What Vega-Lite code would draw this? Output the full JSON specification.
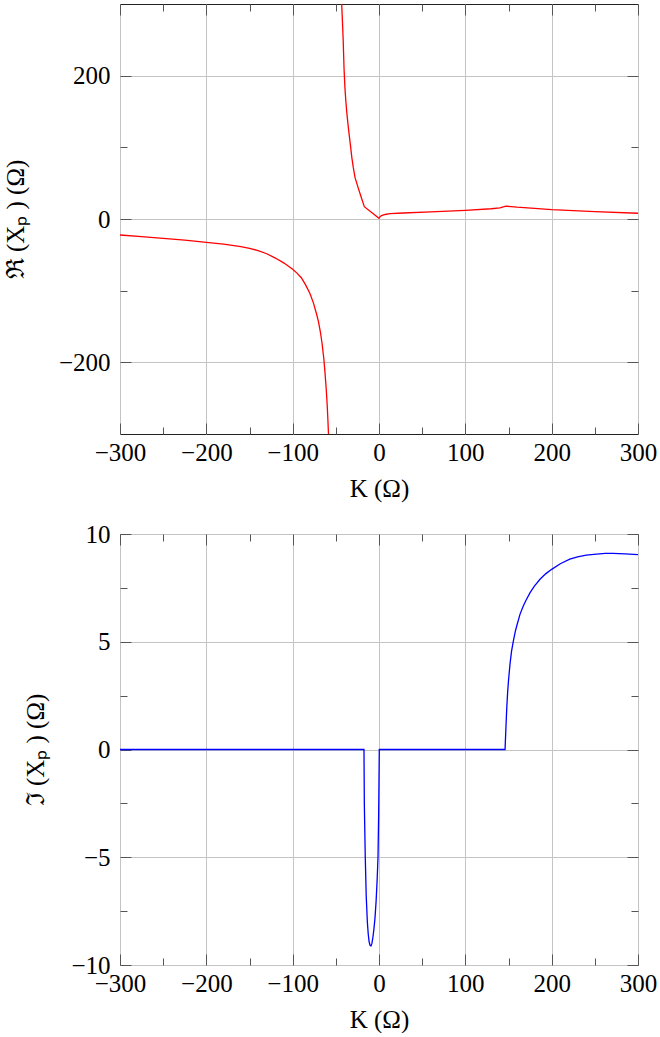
{
  "$schema": "https://vega.github.io/schema/vega-lite/v6.json",
  "padding": {"left": 2, "top": 3, "right": 0, "bottom": 0},
  "autosize": {"type": "pad"},
  "background": "white",
  "datasets": {
    "re": [
      {"K": -300, "v": -22.3, "seg": "a"},
      {"K": -275, "v": -24.5, "seg": "a"},
      {"K": -250, "v": -27, "seg": "a"},
      {"K": -225, "v": -29.5, "seg": "a"},
      {"K": -200, "v": -32.5, "seg": "a"},
      {"K": -180, "v": -35, "seg": "a"},
      {"K": -160, "v": -38.5, "seg": "a"},
      {"K": -150, "v": -41, "seg": "a"},
      {"K": -140, "v": -44, "seg": "a"},
      {"K": -130, "v": -48.5, "seg": "a"},
      {"K": -120, "v": -54.5, "seg": "a"},
      {"K": -110, "v": -61.5, "seg": "a"},
      {"K": -100, "v": -70, "seg": "a"},
      {"K": -95, "v": -75.5, "seg": "a"},
      {"K": -90, "v": -82, "seg": "a"},
      {"K": -85, "v": -92, "seg": "a"},
      {"K": -80, "v": -104, "seg": "a"},
      {"K": -76, "v": -117, "seg": "a"},
      {"K": -72, "v": -134, "seg": "a"},
      {"K": -70, "v": -144, "seg": "a"},
      {"K": -68, "v": -157, "seg": "a"},
      {"K": -66, "v": -173, "seg": "a"},
      {"K": -64, "v": -194, "seg": "a"},
      {"K": -62.5, "v": -215, "seg": "a"},
      {"K": -61, "v": -240, "seg": "a"},
      {"K": -60, "v": -260, "seg": "a"},
      {"K": -59.2, "v": -280, "seg": "a"},
      {"K": -58.5, "v": -300, "seg": "a"},
      {"K": -43.2, "v": 300, "seg": "b"},
      {"K": -42.5, "v": 280, "seg": "b"},
      {"K": -41.5, "v": 250, "seg": "b"},
      {"K": -40.5, "v": 210, "seg": "b"},
      {"K": -39.5, "v": 184, "seg": "b"},
      {"K": -38.5, "v": 166, "seg": "b"},
      {"K": -37.5, "v": 151, "seg": "b"},
      {"K": -36, "v": 133, "seg": "b"},
      {"K": -34.5, "v": 117, "seg": "b"},
      {"K": -33, "v": 102, "seg": "b"},
      {"K": -31.5, "v": 86, "seg": "b"},
      {"K": -29.8, "v": 72, "seg": "b"},
      {"K": -27.8, "v": 58, "seg": "b"},
      {"K": -24, "v": 43, "seg": "b"},
      {"K": -20.5, "v": 30, "seg": "b"},
      {"K": -17, "v": 17.2, "seg": "b"},
      {"K": 0, "v": 1, "seg": "b"},
      {"K": 1.5, "v": 3.5, "seg": "b"},
      {"K": 3, "v": 4.8, "seg": "b"},
      {"K": 7, "v": 6.3, "seg": "b"},
      {"K": 12.7, "v": 7.4, "seg": "b"},
      {"K": 28, "v": 8.4, "seg": "b"},
      {"K": 60, "v": 10, "seg": "b"},
      {"K": 100, "v": 12, "seg": "b"},
      {"K": 130, "v": 14.3, "seg": "b"},
      {"K": 140, "v": 15.6, "seg": "b"},
      {"K": 147, "v": 18, "seg": "b"},
      {"K": 160, "v": 16.5, "seg": "b"},
      {"K": 200, "v": 13, "seg": "b"},
      {"K": 250, "v": 10.3, "seg": "b"},
      {"K": 300, "v": 8, "seg": "b"}
    ],
    "im": [
      {"K": -300, "v": 0},
      {"K": -17.4, "v": 0},
      {"K": -17, "v": -2.5},
      {"K": -15.9, "v": -5},
      {"K": -14.8, "v": -6.8},
      {"K": -13.5, "v": -8},
      {"K": -12.5, "v": -8.55},
      {"K": -11.5, "v": -8.9},
      {"K": -10.5, "v": -9.08},
      {"K": -9.3, "v": -9.12},
      {"K": -8.2, "v": -9.0},
      {"K": -7, "v": -8.7},
      {"K": -5.8, "v": -8.3},
      {"K": -4.6, "v": -7.8},
      {"K": -3.3, "v": -7.0},
      {"K": -2.1, "v": -6.0},
      {"K": -1.16, "v": -5},
      {"K": -0.4, "v": -3},
      {"K": 0.35, "v": 0},
      {"K": 146, "v": 0},
      {"K": 147, "v": 1.0},
      {"K": 148, "v": 1.94},
      {"K": 149, "v": 2.65},
      {"K": 150, "v": 3.2},
      {"K": 151.7, "v": 3.95},
      {"K": 153.5, "v": 4.55},
      {"K": 155.6, "v": 5.03},
      {"K": 158, "v": 5.5},
      {"K": 160, "v": 5.8},
      {"K": 163.3, "v": 6.27},
      {"K": 167, "v": 6.65},
      {"K": 170, "v": 6.9},
      {"K": 175, "v": 7.28},
      {"K": 180, "v": 7.58},
      {"K": 186.5, "v": 7.9},
      {"K": 193, "v": 8.15},
      {"K": 200, "v": 8.36},
      {"K": 210, "v": 8.62},
      {"K": 221, "v": 8.83},
      {"K": 230, "v": 8.94},
      {"K": 240, "v": 9.02},
      {"K": 252, "v": 9.07},
      {"K": 262, "v": 9.1},
      {"K": 271, "v": 9.1},
      {"K": 285, "v": 9.08},
      {"K": 300, "v": 9.04}
    ]
  },
  "bounds": "flush",
  "spacing": 100,
  "vconcat": [
    {
      "width": 518,
      "height": 430,
      "data": {"name": "re"},
      "layer": [
        {
          "mark": {"type": "line", "color": "#ff0000", "strokeWidth": 1.3, "clip": true},
          "encoding": {
            "x": {"field": "K", "type": "quantitative", "scale": {"domain": [-300, 300], "nice": false, "zero": false},
              "axis": {"orient": "bottom", "values": [-300, -200, -100, 0, 100, 200, 300], "tickSize": -11, "labelPadding": 17, "grid": true, "labelFlush": false, "labelOverlap": false, "title": "K (Ω)", "titlePadding": 11}},
            "y": {"field": "v", "type": "quantitative", "scale": {"domain": [-300, 300], "nice": false, "zero": false},
              "axis": {"orient": "left", "values": [-200, 0, 200], "tickSize": -11, "labelPadding": 21, "grid": true, "labelFlush": false, "labelOverlap": false, "title": "ℜ (Xₚ ) (Ω)", "titlePadding": 30}},
            "detail": {"field": "seg"}
          }
        },
        {
          "mark": {"type": "line", "opacity": 0},
          "encoding": {
            "x": {"field": "K", "type": "quantitative", "axis": {"orient": "top", "values": [-300, -200, -100, 0, 100, 200, 300], "tickSize": -11, "labels": false, "grid": false, "title": null, "minExtent": 0}},
            "y": {"field": "v", "type": "quantitative", "axis": {"orient": "right", "values": [-200, 0, 200], "tickSize": -11, "labels": false, "grid": false, "title": null, "minExtent": 0}},
            "detail": {"field": "seg"}
          }
        },
        {
          "mark": {"type": "line", "opacity": 0},
          "encoding": {
            "x": {"field": "K", "type": "quantitative", "axis": {"orient": "bottom", "values": [-250, -150, -50, 50, 150, 250], "tickSize": -7, "labels": false, "grid": false, "title": null, "minExtent": 0}},
            "y": {"field": "v", "type": "quantitative", "axis": {"orient": "left", "values": [-100, 100], "tickSize": -7, "labels": false, "grid": false, "title": null, "minExtent": 0}},
            "detail": {"field": "seg"}
          }
        },
        {
          "mark": {"type": "line", "opacity": 0},
          "encoding": {
            "x": {"field": "K", "type": "quantitative", "axis": {"orient": "top", "values": [-250, -150, -50, 50, 150, 250], "tickSize": -7, "labels": false, "grid": false, "title": null, "minExtent": 0}},
            "y": {"field": "v", "type": "quantitative", "axis": {"orient": "right", "values": [-100, 100], "tickSize": -7, "labels": false, "grid": false, "title": null, "minExtent": 0}},
            "detail": {"field": "seg"}
          }
        }
      ],
      "resolve": {"axis": {"x": "independent", "y": "independent"}}
    },
    {
      "width": 518,
      "height": 431,
      "data": {"name": "im"},
      "layer": [
        {
          "mark": {"type": "line", "color": "#0000ff", "strokeWidth": 1.3, "clip": true},
          "encoding": {
            "x": {"field": "K", "type": "quantitative", "scale": {"domain": [-300, 300], "nice": false, "zero": false},
              "axis": {"orient": "bottom", "values": [-300, -200, -100, 0, 100, 200, 300], "tickSize": -11, "labelPadding": 17, "grid": true, "labelFlush": false, "labelOverlap": false, "title": "K (Ω)", "titlePadding": 11}},
            "y": {"field": "v", "type": "quantitative", "scale": {"domain": [-10, 10], "nice": false, "zero": false},
              "axis": {"orient": "left", "values": [-10, -5, 0, 5, 10], "tickSize": -11, "labelPadding": 21, "grid": true, "labelFlush": false, "labelOverlap": false, "title": "ℑ (Xₚ ) (Ω)", "titlePadding": 22}}
          }
        },
        {
          "mark": {"type": "line", "opacity": 0},
          "encoding": {
            "x": {"field": "K", "type": "quantitative", "axis": {"orient": "top", "values": [-300, -200, -100, 0, 100, 200, 300], "tickSize": -11, "labels": false, "grid": false, "title": null, "minExtent": 0}},
            "y": {"field": "v", "type": "quantitative", "axis": {"orient": "right", "values": [-10, -5, 0, 5, 10], "tickSize": -11, "labels": false, "grid": false, "title": null, "minExtent": 0}}
          }
        },
        {
          "mark": {"type": "line", "opacity": 0},
          "encoding": {
            "x": {"field": "K", "type": "quantitative", "axis": {"orient": "bottom", "values": [-250, -150, -50, 50, 150, 250], "tickSize": -7, "labels": false, "grid": false, "title": null, "minExtent": 0}},
            "y": {"field": "v", "type": "quantitative", "axis": {"orient": "left", "values": [-7.5, -2.5, 2.5, 7.5], "tickSize": -7, "labels": false, "grid": false, "title": null, "minExtent": 0}}
          }
        },
        {
          "mark": {"type": "line", "opacity": 0},
          "encoding": {
            "x": {"field": "K", "type": "quantitative", "axis": {"orient": "top", "values": [-250, -150, -50, 50, 150, 250], "tickSize": -7, "labels": false, "grid": false, "title": null, "minExtent": 0}},
            "y": {"field": "v", "type": "quantitative", "axis": {"orient": "right", "values": [-7.5, -2.5, 2.5, 7.5], "tickSize": -7, "labels": false, "grid": false, "title": null, "minExtent": 0}}
          }
        }
      ],
      "resolve": {"axis": {"x": "independent", "y": "independent"}}
    }
  ],
  "config": {
    "font": "Liberation Serif",
    "view": {"stroke": "#222222", "strokeWidth": 1},
    "axis": {
      "domain": false,
      "labelFont": "Liberation Serif",
      "labelFontSize": 25,
      "labelColor": "#000000",
      "titleFont": "Liberation Serif",
      "titleFontSize": 25,
      "titleFontWeight": "normal",
      "titleColor": "#000000",
      "tickColor": "#555555",
      "tickWidth": 1,
      "gridColor": "#c4c4c4",
      "gridWidth": 1,
      "gridOpacity": 1
    }
  }
}
